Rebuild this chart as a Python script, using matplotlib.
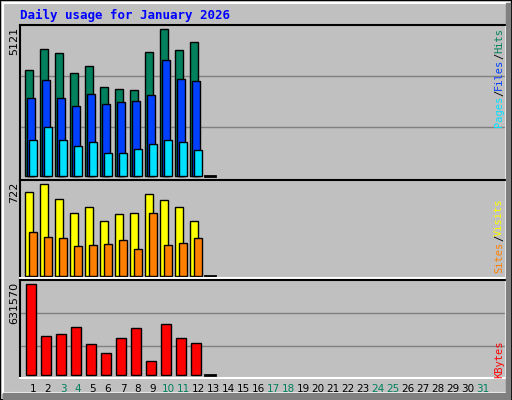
import matplotlib
matplotlib.use("Agg")
import matplotlib.pyplot as plt
from matplotlib.patches import Rectangle

# daily values (day 13 = today, no data yet)
days = list(range(1, 14))
hits = [3690, 4423, 4283, 3585, 3829, 3096, 3027, 2992, 4318, 5121, 4388, 4667, 0]
files = [2712, 3341, 2712, 2433, 2852, 2503, 2573, 2608, 2817, 4039, 3376, 3306, 0]
pages = [1246, 1700, 1246, 1037, 1176, 792, 792, 932, 1107, 1246, 1176, 897, 0]
visits = [659, 722, 604, 494, 541, 432, 487, 494, 644, 596, 541, 432, 0]
sites = [345, 306, 298, 235, 243, 251, 283, 212, 494, 243, 259, 298, 0]
kbytes = [631570, 269500, 283400, 332100, 213800, 151100, 255500, 325200, 95400, 353000, 255500, 220700, 0]
weekend = [3, 4, 10, 11, 17, 18, 24, 25, 31]

W, H = 512, 400
fig = plt.figure(figsize=(W / 100, H / 100), dpi=100, facecolor="#c0c0c0")
# outer 3D frame
fig.patches.append(Rectangle((0, 0), 1, 1, transform=fig.transFigure, fill=False, ec="black", lw=1.5))
fig.patches.append(Rectangle((3 / W, 7 / H), 506 / W, 390 / H, transform=fig.transFigure, fill=False, ec="white", lw=1.5))
fig.patches.append(Rectangle((3 / W, 1 / H), 506 / W, 6 / H, transform=fig.transFigure, color="#808080"))
fig.patches.append(Rectangle((506 / W, 1 / H), 4 / W, 396 / H, transform=fig.transFigure, color="#808080"))

fig.text(20 / W, 1 - 15 / H, "Daily usage for January 2026", color="#0000ff", fontsize=9,
         family="DejaVu Sans Mono", weight="bold", va="center")

X0, X1 = 20, 506


def panel(top, bottom, base, peak_px, vmax):
    ax = fig.add_axes([X0 / W, 1 - bottom / H, (X1 - X0) / W, (bottom - top) / H])
    ax.set_facecolor("#c0c0c0")
    scale = vmax / (base - peak_px)
    ax.set_ylim(-(bottom - base) * scale, (base - top) * scale)
    ax.set_xlim(X0, X1)
    ax.set_xticks([])
    ax.set_yticks([])
    for s in ["top", "left"]:
        ax.spines[s].set_color("black")
    for s in ["bottom", "right"]:
        ax.spines[s].set_color("white")
    for sp in ax.spines.values():
        sp.set_linewidth(1.5)
    return ax, scale


def xpos(d, off):
    return 33 + (d - 1) * 15 + off


def bars(ax, vals, off, width, color):
    for d, v in zip(days, vals):
        if v > 0:
            ax.bar(xpos(d, off), v, width=width, color=color, edgecolor="black", lw=1, align="edge")


def zero_mark(ax):
    for d, v in zip(days, hits):
        if v == 0:
            ax.plot([xpos(d, -8), xpos(d, 2)], [0, 0], color="black", lw=2)


# top panel
ax, sc = panel(25, 180, 176, 29, 5121)
for gy in (76, 127):
    ax.axhline((176 - gy) * sc, color="#808080", lw=1, zorder=0)
bars(ax, hits, -8, 8, "#00805c")
bars(ax, files, -6, 8, "#0040ff")
bars(ax, pages, -4, 8, "#00e0ff")
zero_mark(ax)

# middle panel
ax, sc = panel(180, 278, 276, 184, 722)
bars(ax, visits, -8, 8, "#ffff00")
bars(ax, sites, -4, 8, "#ff8000")
zero_mark(ax)

# bottom panel
ax, sc = panel(280, 378, 375, 284.3, 631570)
for gy in (313, 346):
    ax.axhline((375 - gy) * sc, color="#808080", lw=1, zorder=0)
bars(ax, kbytes, -7, 10, "#ff0000")
zero_mark(ax)

# left max labels
for y, t in [(25, "5121"), (180, "722"), (280, "631570")]:
    fig.text(14 / W, 1 - (y + 2) / H, t, rotation=90, fontsize=8, ha="center", va="top")

# right legends (reading bottom to top, listed from the top down)
def side(parts, y0):
    y = y0
    for t, c in parts:
        fig.text(499 / W, 1 - y / H, t, rotation=90, fontsize=7.5, color=c,
                 family="DejaVu Sans Mono", ha="center", va="top")
        y += len(t) * 6.2
side([("Hits", "#00805c"), ("/", "black"), ("Files", "#0040ff"), ("/", "black"), ("Pages", "#00e0ff")], 28)
side([("Visits", "#ffff00"), ("/", "black"), ("Sites", "#ff8000")], 198)
side([("KBytes", "#ff0000")], 340)

for d in range(1, 32):
    c = "#00805c" if d in weekend else "black"
    fig.text(xpos(d, 0) / W, 1 - 389 / H, str(d), fontsize=7.5, color=c, ha="center", va="center")

fig.savefig("out.png", dpi=100, facecolor=fig.get_facecolor())
